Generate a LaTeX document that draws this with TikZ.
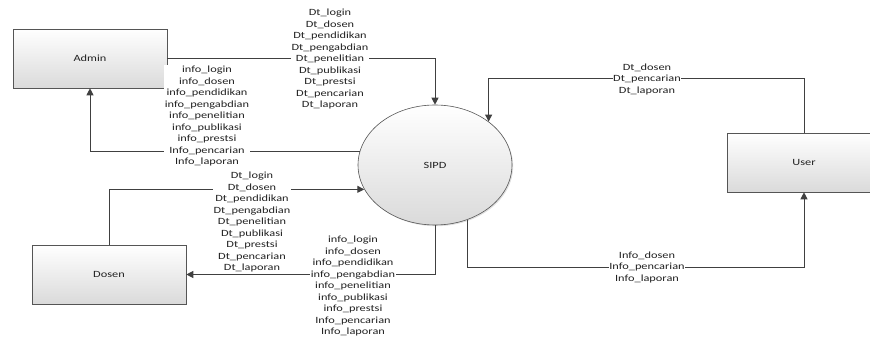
\documentclass[tikz,border=0pt]{standalone}
\usepackage{fontspec}
\setmainfont[FakeStretch=1.3]{Carlito}
\usepackage{tikz}
\usetikzlibrary{shapes.geometric, arrows.meta, calc, shadows}
\definecolor{ink}{HTML}{222222}
\definecolor{wire}{HTML}{404040}
\definecolor{edge}{HTML}{555555}
\definecolor{fade}{HTML}{DADADA}
\tikzset{
  entity/.style  = {draw=edge, line width=0.6pt, rectangle, minimum width=154pt, minimum height=59pt,
                    top color=white, bottom color=fade, text=ink, font=\fontsize{9.5}{11.5}\selectfont,
                    drop shadow={shadow xshift=1.2pt, shadow yshift=-1.2pt, opacity=0.25}},
  process/.style = {entity, ellipse, minimum width=154pt, minimum height=120pt, inner sep=0pt},
  flow/.style    = {-{Triangle[length=7pt,width=7pt]}, draw=wire, line width=1pt},
  tag/.style     = {fill=white, inner sep=0.5pt, align=center, text=ink, font=\fontsize{9.5}{11.5}\selectfont},
}

\begin{document}
\begin{tikzpicture}[x=1pt, y=1pt]
  \useasboundingbox (0,0) rectangle (870,340);

  \node[entity] (admin) at (90,281.5) {Admin};
  \node[entity] (dosen) at (109,65.5) {Dosen};
  \node[entity] (user) at (804,177.5) {User};
  \node[process] (sipd) at (435,175) {SIPD};

  % admin
  \draw[flow] (admin.east) -| (sipd.north);
  \node[tag] (dtadmin) at (330,281) {Dt\_login\\Dt\_dosen\\Dt\_pendidikan\\Dt\_pengabdian\\Dt\_penelitian\\Dt\_publikasi\\Dt\_prestsi\\Dt\_pencarian\\Dt\_laporan};
  \draw[flow] (sipd.170) -| (admin.south);
  \node[tag] (infoadmin) at (207,224) {info\_login\\info\_dosen\\info\_pendidikan\\info\_pengabdian\\info\_penelitian\\info\_publikasi\\info\_prestsi\\Info\_pencarian\\Info\_laporan};

  % dosen
  \draw[flow] (dosen.north) |- (sipd.199);
  \node[tag] (dtdosen) at (252,118) {Dt\_login\\Dt\_dosen\\Dt\_pendidikan\\Dt\_pengabdian\\Dt\_penelitian\\Dt\_publikasi\\Dt\_prestsi\\Dt\_pencarian\\Dt\_laporan};
  \draw[flow] (sipd.south) |- (dosen.east);
  \node[tag] (infodosen) at (353,54) {info\_login\\info\_dosen\\info\_pendidikan\\info\_pengabdian\\info\_penelitian\\info\_publikasi\\info\_prestsi\\Info\_pencarian\\Info\_laporan};

  % user
  \draw[flow] (user.north) -- ++(0,54) -| (sipd.39);
  \node[tag] (dtuser) at (647,261) {Dt\_dosen\\Dt\_pencarian\\Dt\_laporan};
  \draw[flow] (sipd.301) -- ++(0,-48) -| (user.south);
  \node[tag] (infouser) at (647,73) {Info\_dosen\\Info\_pencarian\\Info\_laporan};
\end{tikzpicture}
\end{document}
